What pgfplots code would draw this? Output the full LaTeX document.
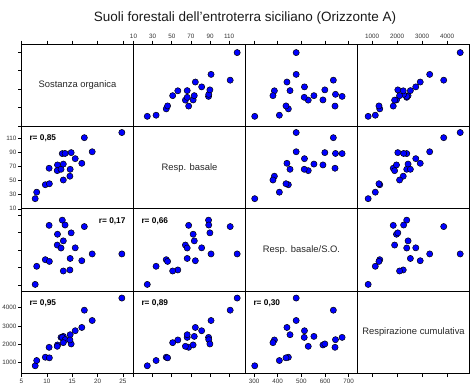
\documentclass[border=0pt]{standalone}
\usepackage{fontspec}
\setmainfont{Liberation Sans}
\usepackage{pgfplots}
\usepackage{pgfplotstable}
\pgfplotsset{compat=1.18}

\pgfplotstableread{
so rb ra rc
7.7 24.4 303 838
8.0 33.6 407 1124
9.7 44.2 445 1302
10.5 45.6 435 1270
10.45 67.6 642 1842
12.1 72.3 591 1971
12.05 64.2 529 1896
12.8 66.1 512 2381
13.25 73.5 553 2435
13.05 88.4 672 2381
13.6 88.6 644 2257
14.8 89.8 599 2025
15.6 81.2 513 2743
16.9 74.6 439 2921
14.6 66.1 452 2527
14.55 56.3 386 2241
13.25 50.9 380 2095
17.4 111.0 635 3860
18.95 91.0 478 3299
24.8 118.3 478 4520
}\data

\tikzset{
  diag/.style={font=\fontsize{9.4}{11}\selectfont, text=black!85},
  rlab/.style={font=\fontsize{8.3}{10}\selectfont\bfseries, text=black},
}
\pgfplotsset{
  cell/.style={scale only axis, width=112pt, height=82.4pt, anchor=north west,
    axis line style={line width=0.9pt,black}, tick align=outside, major tick length=3.5pt,
    tick style={line width=0.6pt,black}, xtick=\empty, ytick=\empty,
    ticklabel style={font=\fontsize{6.3}{7}\selectfont, text=black!80},
    xticklabel style={inner sep=1.5pt}, yticklabel style={inner sep=1.5pt},
    /pgf/number format/assume math mode=true, /pgf/number format/1000 sep={},
    clip=false},
  xSO/.style={xmin=5,xmax=27.1}, ySO/.style={ymin=5,ymax=27.1},
  xRB/.style={xmin=10,xmax=127}, yRB/.style={ymin=10,ymax=127},
  xRA/.style={xmin=264,xmax=737}, yRA/.style={ymin=264,ymax=737},
  xRC/.style={xmin=412,xmax=4892}, yRC/.style={ymin=412,ymax=4892},
  pts/.style={only marks, mark=*, mark size=3.1pt, mark options={fill=blue, draw=black, line width=0.5pt}},
}

\begin{document}
\begin{tikzpicture}
\path[use as bounding box] (0,0) rectangle (470pt,-386pt);
\node[font=\fontsize{13.5}{15}\selectfont, text=black!90] at (245pt,-18pt) {Suoli forestali dell'entroterra siciliano (Orizzonte A)};

% ---------- Row 1 (y = SO)
\begin{axis}[cell, at={(21.5pt,-44pt)}, xSO, ySO,
  xtick={5,10,15,20,25}, xtick pos=right, xticklabel=\empty,
  ytick={5,10,15,20,25}, ytick pos=left, yticklabel=\empty]
  \node[diag] at (rel axis cs:0.5,0.5) {Sostanza organica};
\end{axis}
\begin{axis}[cell, at={(133.5pt,-44pt)}, xRB, ySO,
  xtick={10,30,50,70,90,110}, xtick pos=right]
  \addplot[pts] table[x=rb,y=so] {\data};
\end{axis}
\begin{axis}[cell, at={(245.5pt,-44pt)}, xRA, ySO,
  xtick={300,400,500,600,700}, xtick pos=right, xticklabel=\empty]
  \addplot[pts] table[x=ra,y=so] {\data};
\end{axis}
\begin{axis}[cell, at={(357.5pt,-44pt)}, xRC, ySO,
  xtick={1000,2000,3000,4000}, xtick pos=right]
  \addplot[pts] table[x=rc,y=so] {\data};
\end{axis}

% ---------- Row 2 (y = RB)
\begin{axis}[cell, at={(21.5pt,-126.4pt)}, xSO, yRB,
  ytick={10,30,50,70,90,110}, ytick pos=left]
  \addplot[pts] table[x=so,y=rb] {\data};
  \node[rlab, anchor=west] at (rel axis cs:0.04,0.855) {r= 0,85};
\end{axis}
\begin{axis}[cell, at={(133.5pt,-126.4pt)}, xRB, yRB]
  \node[diag] at (rel axis cs:0.5,0.5) {Resp. basale};
\end{axis}
\begin{axis}[cell, at={(245.5pt,-126.4pt)}, xRA, yRB]
  \addplot[pts] table[x=ra,y=rb] {\data};
\end{axis}
\begin{axis}[cell, at={(357.5pt,-126.4pt)}, xRC, yRB]
  \addplot[pts] table[x=rc,y=rb] {\data};
\end{axis}

% ---------- Row 3 (y = RB/SO)
\begin{axis}[cell, at={(21.5pt,-208.8pt)}, xSO, yRA,
  ytick={300,400,500,600,700}, ytick pos=left, yticklabel=\empty]
  \addplot[pts] table[x=so,y=ra] {\data};
  \node[rlab, anchor=east] at (rel axis cs:0.96,0.845) {r= 0,17};
\end{axis}
\begin{axis}[cell, at={(133.5pt,-208.8pt)}, xRB, yRA]
  \addplot[pts] table[x=rb,y=ra] {\data};
  \node[rlab, anchor=west] at (rel axis cs:0.04,0.845) {r= 0,66};
\end{axis}
\begin{axis}[cell, at={(245.5pt,-208.8pt)}, xRA, yRA]
  \node[diag] at (rel axis cs:0.5,0.5) {Resp. basale/S.O.};
\end{axis}
\begin{axis}[cell, at={(357.5pt,-208.8pt)}, xRC, yRA]
  \addplot[pts] table[x=rc,y=ra] {\data};
\end{axis}

% ---------- Row 4 (y = RC)
\begin{axis}[cell, at={(21.5pt,-291.2pt)}, xSO, yRC,
  xtick={5,10,15,20,25}, xtick pos=left,
  ytick={1000,2000,3000,4000}, ytick pos=left]
  \addplot[pts] table[x=so,y=rc] {\data};
  \node[rlab, anchor=west] at (rel axis cs:0.04,0.855) {r= 0,95};
\end{axis}
\begin{axis}[cell, at={(133.5pt,-291.2pt)}, xRB, yRC,
  xtick={10,30,50,70,90,110}, xtick pos=left, xticklabel=\empty]
  \addplot[pts] table[x=rb,y=rc] {\data};
  \node[rlab, anchor=west] at (rel axis cs:0.04,0.855) {r= 0,89};
\end{axis}
\begin{axis}[cell, at={(245.5pt,-291.2pt)}, xRA, yRC,
  xtick={300,400,500,600,700}, xtick pos=left]
  \addplot[pts] table[x=ra,y=rc] {\data};
  \node[rlab, anchor=west] at (rel axis cs:0.04,0.855) {r= 0,30};
\end{axis}
\begin{axis}[cell, at={(357.5pt,-291.2pt)}, xRC, yRC,
  xtick={1000,2000,3000,4000}, xtick pos=left, xticklabel=\empty]
  \node[diag] at (rel axis cs:0.5,0.5) {Respirazione cumulativa};
\end{axis}
\end{tikzpicture}
\end{document}
